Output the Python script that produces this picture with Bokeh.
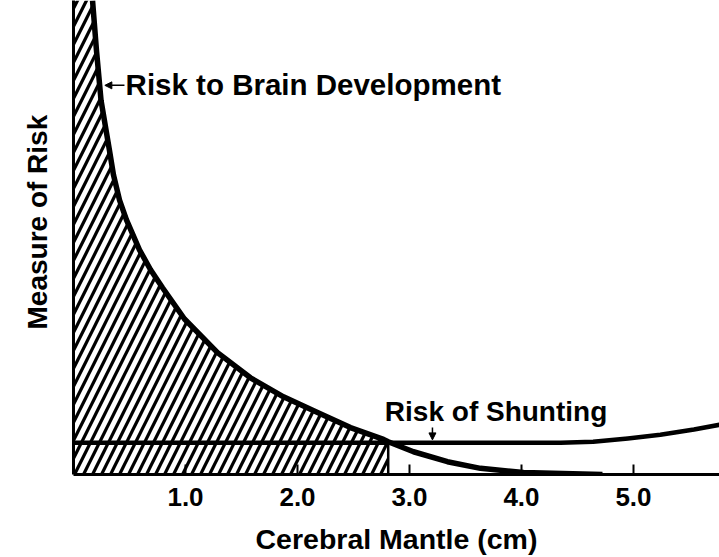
from bokeh.plotting import figure
from bokeh.models import Range1d, Label, Arrow, NormalHead, FixedTicker, Title
from bokeh.embed import file_html
from bokeh.resources import INLINE

# ---- data ----
brain_x = [0.170, 0.205, 0.246, 0.321, 0.357, 0.411, 0.473, 0.589, 0.688, 0.795,
           0.991, 1.286, 1.580, 1.875, 2.179, 2.473, 2.768, 2.81, 3.036, 3.339,
           3.634, 4.018, 4.723]
brain_y = [10.0, 8.95, 7.89, 6.84, 6.32, 5.79, 5.37, 4.74, 4.32, 3.94,
           3.28, 2.57, 2.04, 1.64, 1.31, 0.99, 0.74, 0.69, 0.48, 0.27,
           0.13, 0.04, 0.0]
shunt_x = [0.0, 4.0, 4.35, 4.64, 4.95, 5.24, 5.54, 5.77]
shunt_y = [0.67, 0.67, 0.67, 0.69, 0.76, 0.84, 0.95, 1.05]
hatch_end = 2.81
tick_values = [1, 2, 3, 4, 5]
tick_labels = ["1.0", "2.0", "3.0", "4.0", "5.0"]

FONT = "Liberation Sans"

p = figure(width=719, height=557, output_backend="svg", toolbar_location=None,
           x_range=Range1d(0, 5.768), y_range=Range1d(0, 10.0),
           min_border_left=73, min_border_right=0, min_border_top=0, min_border_bottom=82)
p.outline_line_color = None
p.grid.visible = False
p.background_fill_color = "white"

# hatched area under brain curve up to the crossing point
hx = [0.0] + [x for x in brain_x if x <= hatch_end]
hy = [brain_y[0]] + [y for x, y in zip(brain_x, brain_y) if x <= hatch_end]
p.varea(x=hx, y1=[0] * len(hx), y2=hy, fill_color="white", fill_alpha=0,
        hatch_pattern="/", hatch_color="black", hatch_weight=3.2, hatch_scale=18)

# vertical border of hatched block
p.segment(x0=[hatch_end], y0=[0], x1=[hatch_end], y1=[shunt_y[0]],
          line_color="black", line_width=2.5)

p.line(brain_x, brain_y, line_color="black", line_width=5.5, line_join="round")
p.line(shunt_x, shunt_y, line_color="black", line_width=4.5, line_join="round")

# axes
p.xaxis.ticker = FixedTicker(ticks=tick_values)
p.xaxis.major_label_overrides = {v: l for v, l in zip(tick_values, tick_labels)}
p.xaxis.axis_line_width = 3
p.xaxis.major_tick_in = 10
p.xaxis.major_tick_out = 0
p.xaxis.major_tick_line_width = 2
p.xaxis.minor_tick_line_color = None
p.xaxis.major_label_text_font = FONT
p.xaxis.major_label_text_font_style = "bold"
p.xaxis.major_label_text_font_size = "26px"
p.xaxis.major_label_text_color = "black"
p.xaxis.major_label_standoff = 13
p.xaxis.axis_label = "Cerebral Mantle (cm)"
p.xaxis.axis_label_text_font = FONT
p.xaxis.axis_label_text_font_style = "bold"
p.xaxis.axis_label_text_font_size = "28.5px"
p.xaxis.axis_label_text_color = "black"
p.xaxis.axis_label_standoff = 14

p.yaxis.ticker = FixedTicker(ticks=[])
p.yaxis.axis_line_width = 3
p.yaxis.major_tick_line_color = None
p.yaxis.minor_tick_line_color = None
p.yaxis.major_tick_in = 0
p.yaxis.major_tick_out = 0
p.yaxis.major_label_standoff = 0
p.yaxis.major_label_text_font_size = "0px"

p.add_layout(Title(text="Measure of Risk", align="left", offset=145, standoff=38,
                   vertical_align="top",
                   text_font=FONT, text_font_style="bold", text_font_size="28px",
                   text_color="black"), "left")

p.add_layout(Label(x=0.465, y=8.23, text="Risk to Brain Development",
                   text_align="left", text_baseline="middle",
                   text_font=FONT, text_font_style="bold", text_font_size="29.5px",
                   text_color="black"))
p.add_layout(Label(x=2.78, y=1.33, text="Risk of Shunting",
                   text_align="left", text_baseline="middle",
                   text_font=FONT, text_font_style="bold", text_font_size="28px",
                   text_color="black"))

p.add_layout(Arrow(x_start=0.455, y_start=8.21, x_end=0.28, y_end=8.21,
                   line_color="black", line_width=1.5,
                   end=NormalHead(size=7, fill_color="black", line_color="black")))
p.add_layout(Arrow(x_start=3.205, y_start=0.99, x_end=3.205, y_end=0.73,
                   line_color="black", line_width=1.5,
                   end=NormalHead(size=7, fill_color="black", line_color="black")))

open("out.html", "w").write(file_html(p, INLINE))
